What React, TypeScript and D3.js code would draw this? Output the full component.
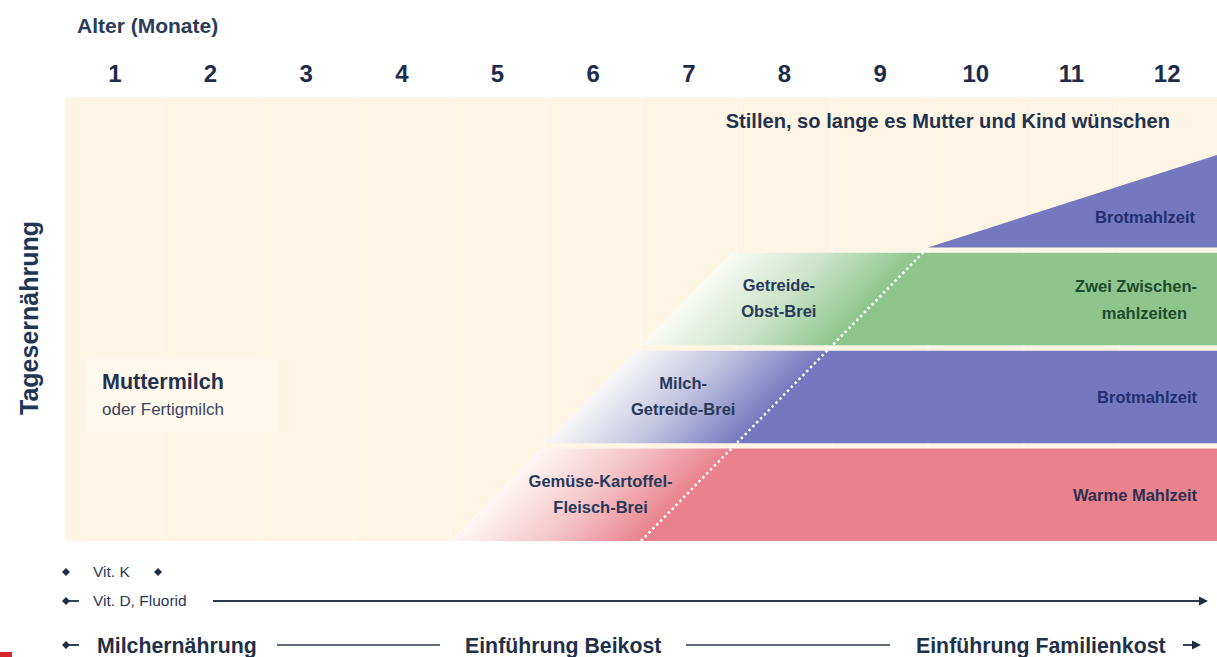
import React, { useEffect, useRef } from "react";
import * as d3 from "d3";

// month tick labels along the top
const monthLabels = ["1", "2", "3", "4", "5", "6", "7", "8", "9", "10", "11", "12"];

// rows of the daily diet, top to bottom
const rowKeys = ["brot2", "obst", "milch", "gemuese"];

// introduced foods (parallelogram bands)
const bandRows = ["obst", "milch", "gemuese"];
const bandStart = [6, 5, 4]; // month where the fade-in begins (lower left corner)
const bandFull = [8, 7, 6]; // month where the band reaches full colour (lower edge)
const bandColors = ["#8DC58C", "#7479BF", "#E9828C"];
const bandLabels = [
  ["Getreide-", "Obst-Brei"],
  ["Milch-", "Getreide-Brei"],
  ["Gemüse-Kartoffel-", "Fleisch-Brei"],
];
const rightLabels = [
  ["Zwei Zwischen-", "mahlzeiten"],
  ["Brotmahlzeit"],
  ["Warme Mahlzeit"],
];
const rightLabelColors = ["#1D4B2C", "#222F70", "#2B2F52"];

// bread meal wedge in the top row
const wedgeStart = 9;
const wedgeEnd = 12;

// dotted transition line (months)
const dotFrom = 6;
const dotTo = 9;

const App: React.FC = () => {
  const ref = useRef<SVGSVGElement>(null);

  useEffect(() => {
    if (!ref.current) return;
    const W = 1217;
    const svg = d3.select(ref.current);
    svg.selectAll("*").remove();

    const x = d3.scaleLinear().domain([0, 12]).range([67, 1215]);
    const y = d3.scaleBand<string>().domain(rowKeys).range([155, 541]).paddingInner(0.055);
    const bw = y.bandwidth();
    const navy = "#22324F";
    const font = "'Liberation Sans', Arial, sans-serif";

    const defs = svg.append("defs");

    // background panel
    svg.append("rect").attr("x", 65).attr("y", 97).attr("width", W - 65).attr("height", 444).attr("fill", "#FEF5E4");
    // faint month columns
    svg
      .selectAll("line.col")
      .data(d3.range(1, 12))
      .enter()
      .append("line")
      .attr("x1", (d) => x(d))
      .attr("x2", (d) => x(d))
      .attr("y1", 97)
      .attr("y2", 541)
      .attr("stroke", "#FFFAF1")
      .attr("stroke-width", 2);

    // Muttermilch box
    svg.append("rect").attr("x", 86).attr("y", 358).attr("width", 192).attr("height", 74).attr("fill", "#FFF8EC");

    // diagonal geometry: the dotted line fixes the slant
    const yBottom = y("gemuese")! + bw;
    const yTop = y("brot2")! + bw;
    const k = (x(dotTo) - x(dotFrom)) / (yBottom - yTop); // px horizontal per px vertical

    // bands
    bandRows.forEach((r, i) => {
      const top = y(r)!;
      const bot = top + bw;
      const xs = x(bandStart[i]);
      const xf = x(bandFull[i]);
      const id = `grad-${r}`;
      const d = (xf - xs) / (1 + k * k);
      const g = defs
        .append("linearGradient")
        .attr("id", id)
        .attr("gradientUnits", "userSpaceOnUse")
        .attr("x1", xs)
        .attr("y1", bot)
        .attr("x2", xs + d)
        .attr("y2", bot + d * k);
      g.append("stop").attr("offset", 0).attr("stop-color", bandColors[i]).attr("stop-opacity", 0.05);
      g.append("stop").attr("offset", 0.5).attr("stop-color", bandColors[i]).attr("stop-opacity", 0.45);
      g.append("stop").attr("offset", 1).attr("stop-color", bandColors[i]).attr("stop-opacity", 1);

      const pts: [number, number][] = [
        [xs, bot],
        [xs + k * bw, top],
        [W, top],
        [W, bot],
      ];
      // pale underlay so the faded end reads lighter than the cream
      svg.append("path").attr("d", d3.line()(pts) + "Z").attr("fill", "#FFFFFF").attr("fill-opacity", 0.85);
      svg.append("path").attr("d", d3.line()(pts) + "Z").attr("fill", `url(#${id})`);

      // gradient-region label
      const cx = (xs + xf) / 2 + (k * bw) / 2 + (i === 2 ? 10 : -3);
      const cy = top + bw / 2;
      const t = svg
        .append("text")
        .attr("x", cx)
        .attr("y", cy - 8)
        .attr("text-anchor", "middle")
        .attr("font-family", font)
        .attr("font-weight", "bold")
        .attr("font-size", 16.5)
        .attr("fill", "#27395A");
      bandLabels[i].forEach((s, j) => t.append("tspan").attr("x", cx).attr("dy", j === 0 ? 0 : 26).text(s));

      // right label
      const lines = rightLabels[i];
      const rt = svg
        .append("text")
        .attr("y", cy + 6 - (lines.length - 1) * 13)
        .attr("text-anchor", "end")
        .attr("font-family", font)
        .attr("font-weight", "bold")
        .attr("font-size", 16.5)
        .attr("fill", rightLabelColors[i]);
      lines.forEach((s, j) =>
        rt
          .append("tspan")
          .attr("x", j === 0 ? x(12) - 18 : x(12) - 28)
          .attr("dy", j === 0 ? 0 : 27)
          .text(s)
      );
    });

    // bread-meal wedge
    const wTop = y("brot2")!;
    const wBot = wTop + bw;
    svg
      .append("path")
      .attr("d", d3.line()([[x(wedgeStart), wBot], [W, wTop], [W, wBot]]) + "Z")
      .attr("fill", "#7479BF");
    svg
      .append("text")
      .attr("x", x(wedgeEnd) - 20)
      .attr("y", wTop + bw * 0.74)
      .attr("text-anchor", "end")
      .attr("font-family", font)
      .attr("font-weight", "bold")
      .attr("font-size", 16.5)
      .attr("fill", "#222F70")
      .text("Brotmahlzeit");

    // dotted line
    svg
      .append("line")
      .attr("x1", x(dotFrom))
      .attr("y1", yBottom)
      .attr("x2", x(dotTo))
      .attr("y2", yTop)
      .attr("stroke", "#FFFFFF")
      .attr("stroke-width", 2.5)
      .attr("stroke-dasharray", "2.5,3");

    // Muttermilch
    svg
      .append("text")
      .attr("x", 102)
      .attr("y", 389)
      .attr("font-family", font)
      .attr("font-weight", "bold")
      .attr("font-size", 21.5)
      .attr("fill", navy)
      .text("Muttermilch");
    svg
      .append("text")
      .attr("x", 102)
      .attr("y", 415)
      .attr("font-family", font)
      .attr("font-size", 17)
      .attr("fill", "#3A4560")
      .text("oder Fertigmilch");

    // Stillen
    svg
      .append("text")
      .attr("x", 1170)
      .attr("y", 128)
      .attr("text-anchor", "end")
      .attr("font-family", font)
      .attr("font-weight", "bold")
      .attr("font-size", 20.1)
      .attr("fill", navy)
      .text("Stillen, so lange es Mutter und Kind wünschen");

    // top axis
    svg
      .append("text")
      .attr("x", 77)
      .attr("y", 33)
      .attr("font-family", font)
      .attr("font-weight", "bold")
      .attr("font-size", 21)
      .attr("fill", "#2B3C58")
      .text("Alter (Monate)");
    svg
      .selectAll("text.month")
      .data(monthLabels)
      .enter()
      .append("text")
      .attr("x", (d, i) => x(i + 0.5))
      .attr("y", 82)
      .attr("text-anchor", "middle")
      .attr("font-family", font)
      .attr("font-weight", "bold")
      .attr("font-size", 24)
      .attr("fill", "#1E2C4C")
      .text((d) => d);

    // y title
    svg
      .append("text")
      .attr("transform", `translate(38, 318) rotate(-90)`)
      .attr("text-anchor", "middle")
      .attr("font-family", font)
      .attr("font-weight", "bold")
      .attr("font-size", 25)
      .attr("fill", "#1F3654")
      .text("Tagesernährung");

    // vitamin rows
    const diamond = (cx: number, cy: number, s: number) =>
      svg
        .append("path")
        .attr("d", `M${cx - s},${cy}L${cx},${cy - s}L${cx + s},${cy}L${cx},${cy + s}Z`)
        .attr("fill", "#1F2D45");
    const smallSize = 15.5;
    diamond(66, 572, 4);
    diamond(158, 572, 4);
    svg.append("text").attr("x", 93).attr("y", 577).attr("font-family", font).attr("font-size", smallSize).attr("fill", "#2A3A55").text("Vit. K");

    diamond(66, 601, 4);
    svg.append("line").attr("x1", 66).attr("x2", 79).attr("y1", 601).attr("y2", 601).attr("stroke", "#1F2D45").attr("stroke-width", 1.8);
    svg.append("text").attr("x", 93).attr("y", 606).attr("font-family", font).attr("font-size", smallSize).attr("fill", "#2A3A55").text("Vit. D, Fluorid");
    svg.append("line").attr("x1", 213).attr("x2", 1202).attr("y1", 601).attr("y2", 601).attr("stroke", "#2E3B4C").attr("stroke-width", 1.8);
    svg.append("path").attr("d", "M1199,596.5L1208,601L1199,605.5Z").attr("fill", "#1F2D45");

    // phases
    diamond(66, 645, 4);
    svg.append("line").attr("x1", 66).attr("x2", 79).attr("y1", 645).attr("y2", 645).attr("stroke", "#1F2D45").attr("stroke-width", 1.8);
    const phase = (tx: number, s: string) =>
      svg
        .append("text")
        .attr("x", tx)
        .attr("y", 653)
        .attr("font-family", font)
        .attr("font-weight", "bold")
        .attr("font-size", 21.3)
        .attr("fill", "#1F3048")
        .text(s);
    phase(97, "Milchernährung");
    phase(465, "Einführung Beikost");
    phase(916, "Einführung Familienkost");
    svg.append("line").attr("x1", 277).attr("x2", 440).attr("y1", 645).attr("y2", 645).attr("stroke", "#2E3B4C").attr("stroke-width", 1.4);
    svg.append("line").attr("x1", 686).attr("x2", 890).attr("y1", 645).attr("y2", 645).attr("stroke", "#2E3B4C").attr("stroke-width", 1.4);
    svg.append("line").attr("x1", 1183).attr("x2", 1194).attr("y1", 645).attr("y2", 645).attr("stroke", "#1F2D45").attr("stroke-width", 1.8);
    svg.append("path").attr("d", "M1192,640.5L1201,645L1192,649.5Z").attr("fill", "#1F2D45");

    // red corner mark
    svg.append("rect").attr("x", 0).attr("y", 652).attr("width", 12).attr("height", 5).attr("fill", "#D7262E");
  }, []);

  return (
    <svg
      ref={ref}
      width={1217}
      height={657}
      style={{ position: "absolute", left: 0, top: 0, background: "#FFFFFF" }}
    />
  );
};

export default App;
